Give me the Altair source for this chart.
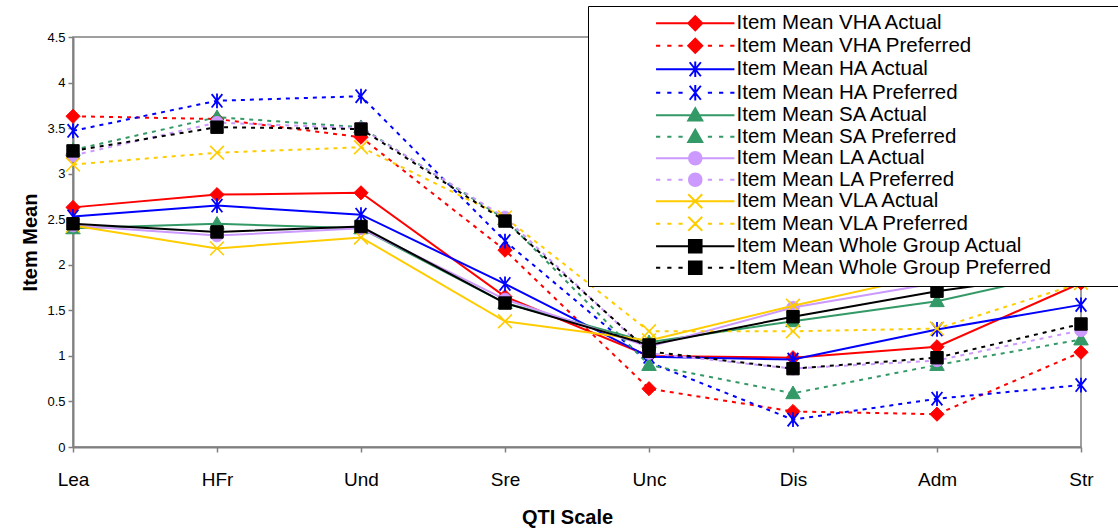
import altair as alt
import pandas as pd

categories = ["Lea", "HFr", "Und", "Sre", "Unc", "Dis", "Adm", "Str"]

series_names = [
    "Item Mean VHA Actual", "Item Mean VHA Preferred",
    "Item Mean HA Actual", "Item Mean HA Preferred",
    "Item Mean SA Actual", "Item Mean SA Preferred",
    "Item Mean LA Actual", "Item Mean LA Preferred",
    "Item Mean VLA Actual", "Item Mean VLA Preferred",
    "Item Mean Whole Group Actual", "Item Mean Whole Group Preferred",
]

vha_actual = [2.63, 2.77, 2.79, 1.65, 1.00, 0.98, 1.10, 1.80]
vha_pref = [3.63, 3.60, 3.40, 2.16, 0.64, 0.39, 0.36, 1.04]
ha_actual = [2.53, 2.65, 2.55, 1.79, 0.99, 0.96, 1.29, 1.56]
ha_pref = [3.47, 3.80, 3.85, 2.26, 0.93, 0.30, 0.53, 0.68]
sa_actual = [2.40, 2.45, 2.40, 1.58, 1.15, 1.38, 1.60, 1.95]
sa_pref = [3.26, 3.62, 3.51, 2.50, 0.90, 0.59, 0.90, 1.18]
la_actual = [2.43, 2.32, 2.40, 1.62, 1.10, 1.53, 1.80, 2.00]
la_pref = [3.20, 3.56, 3.50, 2.52, 1.03, 0.86, 0.95, 1.28]
vla_actual = [2.43, 2.18, 2.30, 1.38, 1.17, 1.55, 1.90, 2.10]
vla_pref = [3.10, 3.23, 3.29, 2.52, 1.27, 1.27, 1.30, 1.80]
wg_actual = [2.45, 2.36, 2.42, 1.58, 1.12, 1.43, 1.71, 1.93]
wg_pref = [3.25, 3.51, 3.49, 2.48, 1.05, 0.86, 0.98, 1.35]

all_values = [vha_actual, vha_pref, ha_actual, ha_pref, sa_actual, sa_pref,
              la_actual, la_pref, vla_actual, vla_pref, wg_actual, wg_pref]

# styles
colors = ["#FF0000", "#FF0000", "#0000FF", "#0000FF", "#339966", "#339966",
          "#CC99FF", "#CC99FF", "#FFCC00", "#FFCC00", "#000000", "#000000"]
dotted = [False, True] * 6

DIAMOND = "M0,-1L1,0L0,1L-1,0Z"
STAR = "M-0.8,-1L0.8,1M0.8,-1L-0.8,1M0,-1.1L0,1.1"
TRIANGLE = "M0,-1L1,0.75L-1,0.75Z"
CIRCLE = "M-0.9,0A0.9,0.9 0 1,0 0.9,0A0.9,0.9 0 1,0 -0.9,0Z"
XMARK = "M-1,-1L1,1M1,-1L-1,1"
SQUARE = "M-0.9,-0.9L0.9,-0.9L0.9,0.9L-0.9,0.9Z"

marker_kind = ["diamond", "star", "triangle", "circle", "x", "square"]
marker_paths = {"diamond": DIAMOND, "star": STAR, "triangle": TRIANGLE,
                "circle": CIRCLE, "x": XMARK, "square": SQUARE}
marker_filled = {"diamond": True, "star": False, "triangle": True,
                 "circle": True, "x": False, "square": True}
marker_size = {"diamond": 200, "star": 180, "triangle": 210,
               "circle": 190, "x": 190, "square": 190}
marker_sw = {"diamond": 1, "star": 1.8, "triangle": 1,
             "circle": 1, "x": 1.6, "square": 1}

rows = []
for name, vals in zip(series_names, all_values):
    for c, v in zip(categories, vals):
        rows.append({"series": name, "cat": c, "val": v})
df = pd.DataFrame(rows)

x_enc = alt.X(
    "cat:N", sort=categories,
    scale=alt.Scale(type="point", padding=0),
    axis=alt.Axis(
        labelAngle=0, labelFontSize=19, labelPadding=18, tickSize=5,
        title="QTI Scale", titleFontSize=20, titleFontWeight="bold",
        titleX=494, titleY=70, titleBaseline="middle", titleAlign="center",
        grid=False,
    ),
)
y_enc = alt.Y(
    "val:Q",
    scale=alt.Scale(domain=[0, 4.5], nice=False, zero=True),
    axis=alt.Axis(
        values=[0, 0.5, 1, 1.5, 2, 2.5, 3, 3.5, 4, 4.5], format="~g",
        labelFontSize=13, labelPadding=3, tickSize=5,
        title="Item Mean", titleFontSize=20, titleFontWeight="bold",
        titleX=-43, titleY=205, titleAngle=270, titleBaseline="middle",
        titleAlign="center", grid=False,
    ),
)

base = alt.Chart(df)
layers = []
for i, name in enumerate(series_names):
    kind = marker_kind[i // 2]
    sub = base.transform_filter(alt.datum.series == name)
    line_kw = dict(color=colors[i], strokeWidth=2)
    if dotted[i]:
        line_kw["strokeDash"] = [4, 5]
    layers.append(sub.mark_line(**line_kw).encode(x=x_enc, y=y_enc))
    pt_kw = dict(shape=marker_paths[kind], size=marker_size[kind], opacity=1,
                 strokeWidth=marker_sw[kind], stroke=colors[i])
    if marker_filled[kind]:
        pt_kw.update(filled=True, fill=colors[i])
    else:
        pt_kw.update(filled=False, fill="transparent")
    layers.append(sub.mark_point(**pt_kw).encode(x=x_enc, y=y_enc))

# legend symbols: line (solid or dotted) with the marker in the middle
def seg_path(is_dotted):
    if not is_dotted:
        return "M-5.6,0L5.6,0"
    segs = [(-5.6, -5.0), (-4.0, -3.4), (-2.4, -1.8),
            (1.8, 2.4), (3.4, 4.0), (5.0, 5.6)]
    return "".join(f"M{a},0L{b},0" for a, b in segs)

legend_paths = []
for i in range(12):
    kind = marker_kind[i // 2]
    legend_paths.append(marker_paths[kind] + seg_path(dotted[i]))

leg = alt.Legend(
    title=" ", titleOrient="right", titlePadding=80, titleFontSize=20,
    orient="none", legendX=515, legendY=-31,
    fillColor="white", strokeColor="black", padding=7, rowPadding=-0.5,
    labelFontSize=20.5, labelFont="Liberation Sans", labelColor="black",
    labelLimit=600, symbolSize=196, symbolStrokeWidth=2,
    symbolOffset=90, labelOffset=31,
)

legend_layer = base.transform_filter("false").mark_point(
    filled=True, opacity=1, size=196, strokeWidth=2
).encode(
    x=x_enc, y=y_enc,
    fill=alt.Fill("series:N", scale=alt.Scale(domain=series_names, range=colors), legend=leg),
    stroke=alt.Stroke("series:N", scale=alt.Scale(domain=series_names, range=colors), legend=leg),
    shape=alt.Shape("series:N", scale=alt.Scale(domain=series_names, range=legend_paths), legend=leg),
)
layers.append(legend_layer)

chart = alt.layer(*layers).properties(
    width=1008, height=410,
    autosize=alt.AutoSizeParams(type="none"),
    padding={"left": 73, "top": 37, "right": 37, "bottom": 81},
    background="white",
).configure_view(
    stroke="#808080", strokeWidth=1.5
).configure_axis(
    domainColor="#808080", domainWidth=2, tickColor="#808080", tickWidth=1.5,
    labelColor="black", labelFont="Liberation Sans", titleFont="Liberation Sans",
    titleColor="black",
)

chart.save("out.html", embed_options={"renderer": "svg", "actions": False})
